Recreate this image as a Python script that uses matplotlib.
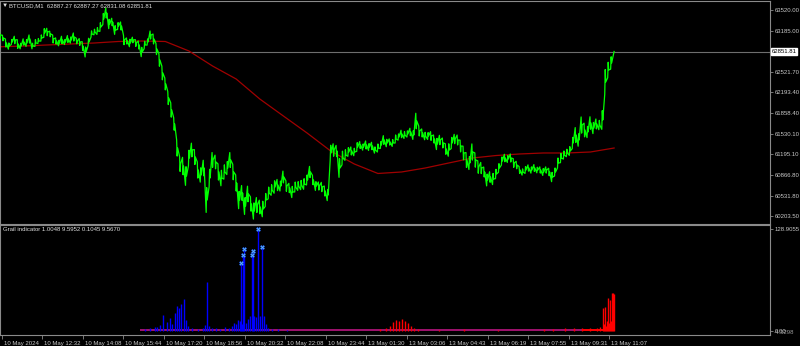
import matplotlib
matplotlib.use("Agg")
import matplotlib.pyplot as plt
import matplotlib.transforms as mtransforms

# =========================================================
# DATA  (BTCUSD M1)
# =========================================================
STEP = 7          # bars between close samples
MA_STEP = 56      # bars between MA samples

close = [
    63117, 63069, 62989, 62940, 63005, 63037, 62973, 62940, 63005, 62989,
    63053, 62940, 62989, 63021, 63069, 63150, 63166, 63134, 63053, 63021,
    62989, 63037, 63005, 63053, 63037, 63085, 63021, 63005, 62940, 62844,
    63005, 63134, 63166, 63182, 63246, 63375, 63472, 63295, 63327, 63198,
    63262, 63262, 63037, 63021, 62989, 63037, 62989, 62957, 62844, 62957,
    63005, 63117, 63053, 62892, 62715, 62506, 62329, 62103, 61910, 61685,
    61298, 61041, 61008, 60847, 61137, 61266, 61153, 60944, 60864, 60976,
    60461, 60815, 61105, 61073, 60912, 60815, 60912, 60976, 61105, 60912,
    60735, 60461, 60574, 60364, 60558, 60397, 60284, 60380, 60348, 60316,
    60461, 60574, 60622, 60670, 60702, 60686, 60831, 60686, 60654, 60590,
    60670, 60686, 60702, 60719, 60783, 60912, 60783, 60686, 60686, 60670,
    60606, 60541, 61218, 61266, 61250, 60976, 61137, 61185, 61234, 61250,
    61234, 61314, 61346, 61314, 61346, 61314, 61330, 61266, 61298, 61346,
    61427, 61379, 61395, 61379, 61443, 61475, 61524, 61507, 61524, 61556,
    61507, 61733, 61572, 61540, 61491, 61491, 61491, 61443, 61363, 61427,
    61379, 61282, 61266, 61379, 61443, 61427, 61330, 61218, 61105, 61057,
    61234, 61105, 60992, 60976, 60912, 60783, 60831, 60799, 60880, 60976,
    61089, 61137, 61121, 61137, 61057, 61024, 60944, 60912, 60944, 60976,
    60944, 60976, 60944, 60944, 60912, 60944, 60912, 60831, 60912, 61057,
    61137, 61185, 61218, 61250, 61379, 61507, 61427, 61668, 61588, 61556,
    61701, 61620, 61685, 61668, 61749, 62361, 62554, 62667, 62852,
]

# high-low span of the bars inside each sample (USD)
span = [
    110, 90, 130, 100, 80, 120, 140, 90, 100, 110,
    130, 90, 110, 80, 100, 140, 120, 90, 130, 100,
    90, 120, 80, 110, 100, 130, 90, 110, 140, 160,
    120, 100, 90, 110, 140, 180, 160, 150, 120, 140,
    110, 130, 150, 100, 120, 90, 110, 130, 150, 120,
    100, 130, 160, 180, 200, 220, 190, 210, 230, 200,
    260, 240, 280, 300, 250, 220, 240, 260, 230, 250,
    400, 280, 240, 220, 260, 250, 230, 210, 240, 250,
    260, 280, 240, 270, 250, 230, 260, 240, 220, 250,
    210, 190, 170, 200, 180, 160, 190, 170, 150, 180,
    160, 140, 150, 170, 160, 180, 150, 140, 130, 150,
    160, 180, 250, 200, 180, 300, 220, 170, 140, 130,
    120, 140, 110, 100, 130, 110, 120, 100, 130, 110,
    140, 120, 100, 110, 130, 100, 120, 110, 100, 120,
    140, 250, 160, 130, 120, 110, 140, 130, 180, 150,
    160, 170, 200, 180, 150, 160, 190, 220, 240, 210,
    260, 230, 200, 180, 160, 190, 170, 180, 150, 140,
    130, 120, 110, 130, 140, 120, 110, 100, 110, 100,
    100, 110, 90, 100, 110, 100, 120, 150, 130, 160,
    150, 130, 120, 140, 180, 240, 200, 260, 220, 180,
    200, 180, 160, 150, 300, 400, 250, 200, 0,
]

ma = [
    62928, 62940, 62957, 62973, 62989, 63013, 63021, 63013, 62860, 62618,
    62409, 62087, 61813, 61540, 61250, 61041, 60888, 60912, 60976, 61057,
    61137, 61177, 61202, 61218, 61218, 61234, 61298,
]

last_price = 62851.81
price_ticks = [63520.00, 63185.00, 62521.70, 62193.40, 61858.40,
               61530.10, 61195.10, 60866.80, 60531.80, 60203.50]

time_labels = [
    "10 May 2024", "10 May 12:32", "10 May 14:08", "10 May 15:44",
    "10 May 17:20", "10 May 18:56", "10 May 20:32", "10 May 22:08",
    "10 May 23:44", "13 May 01:30", "13 May 03:06", "13 May 04:43",
    "13 May 06:19", "13 May 07:55", "13 May 09:31", "13 May 11:07",
]
time_tick_bars = [4 + 96 * i for i in range(len(time_labels))]

# Grail indicator histogram (bar index, value)
blue_bars = [344, 356, 367, 372, 379, 386, 396, 403, 408, 415, 419, 424, 429,
             436, 441, 446, 455, 469, 481, 486, 491, 495, 502, 512, 521, 533,
             543, 550, 555, 559, 564, 569, 574, 583, 588, 593, 602, 607, 616,
             626, 630, 635, 645, 660, 680]
blue_vals = [2.5, 3.8, 5, 5, 7.6, 20, 11, 16.5, 8, 23, 32, 29, 34,
             40.5, 14, 6, 3, 2.5, 4, 7.6, 62, 6.3, 3, 3.8, 2.5, 5,
             3, 6, 10, 8, 14, 12, 9, 10, 15, 19, 19, 18, 19,
             19, 8, 4, 2.5, 2, 1.5]

signal_bars = [571, 576, 578, 597, 600, 611, 621]
signal_vals = [86.5, 97.0, 103.8, 96.2, 102.0, 128.9, 107.0]

red_bars = [900, 915, 924, 931, 939, 946, 953, 960, 967, 974, 981, 990,
            1040, 1100, 1180, 1290, 1310, 1340, 1360, 1380, 1400, 1415,
            1422, 1429, 1432, 1434, 1437, 1439, 1441, 1444, 1446, 1448,
            1450, 1453, 1456]
red_vals = [2, 4, 6.3, 11.4, 13.9, 12.7, 15.2, 12.7, 10, 6.3, 3.8, 2,
            1.5, 2, 1.5, 2, 2.5, 3, 3, 3.5, 3, 4,
            5, 29.1, 8, 30.4, 6, 12, 41.8, 10, 39.2, 12,
            48.1, 48.1, 46.8]

ind_start, ind_end = 332, 1458

# =========================================================
# PLOT
# =========================================================
BG = "black"
GRID = "#8a8a8a"
TXT = "#c8c8c8"
FS = 4.3

plt.rcParams["font.family"] = ["Liberation Sans", "DejaVu Sans"]

fig = plt.figure(figsize=(8, 3.46), dpi=100, facecolor=BG)
ax = fig.add_axes([0.0, 0.3526, 0.9625, 0.6445], facecolor=BG)
ax2 = fig.add_axes([0.0, 0.0318, 0.9625, 0.3165], facecolor=BG)

x_max = 770 * 96 / 40.49

for a in (ax, ax2):
    a.set_xlim(0, x_max)
    for s in a.spines.values():
        s.set_color(GRID)
        s.set_linewidth(0.8)
    a.yaxis.tick_right()
    a.tick_params(axis="y", colors=GRID, labelcolor=TXT, labelsize=FS,
                  length=2, width=0.6, pad=1.5)

# ---- price panel: near-vertical strokes through each sample's high/low,
# ordered by the direction to the next close
zx, zy = [], []
for k, (c, r) in enumerate(zip(close, span)):
    b = k * STEP
    if k == len(close) - 1:
        zx.append(b)
        zy.append(c)
        break
    hi, lo = c + r / 2, c - r / 2
    up = close[k + 1] >= c
    pts = (lo, hi, c) if up else (hi, lo, c)
    zx += [b - 1.2, b, b + 1.2]
    zy += list(pts)

ma_bars = [i * MA_STEP for i in range(len(ma))]

ax.axhline(last_price, color="#6e6e6e", lw=0.8, zorder=1)
ax.plot(ma_bars, ma, color="#a00000", lw=0.9, zorder=2)
ax.plot(zx, zy, color="#00ff00", lw=0.9, zorder=3)
ax.set_ylim(60074.6, 63665)
ax.set_yticks(price_ticks, [f"{v:.2f}" for v in price_ticks])
ax.set_xticks([])

trans = mtransforms.blended_transform_factory(ax.transAxes, ax.transData)
ax.text(1.002, last_price, f"{last_price:.2f}", transform=trans,
        fontsize=FS, color="black", va="center", ha="left",
        bbox=dict(boxstyle="square,pad=0.15", fc="white", ec="white"))

fig.text(2 / 800, 1 - 5.5 / 346, "\u25bc", fontsize=4.5, color="#e0e0e0",
         va="center", ha="left")
fig.text(9 / 800, 1 - 5.5 / 346,
         "BTCUSD,M1  62887.27 62887.27 62831.08 62851.81",
         fontsize=FS, color="#e0e0e0", va="center", ha="left")

# ---- indicator panel
ax2.plot([ind_start, ind_end], [0.4, 0.4], color="#a0126e", lw=1.4,
         solid_capstyle="butt", zorder=1)
ax2.plot([1380, ind_end], [0.4, 0.4], color="#ff0000", lw=1.4,
         solid_capstyle="butt", zorder=1)
ax2.vlines(blue_bars, 0, blue_vals, color="#0000ff", lw=1.0, zorder=2)
ax2.vlines(signal_bars, 0, signal_vals, color="#0000ff", lw=1.0, zorder=2)
ax2.vlines(red_bars, 0, red_vals, color="#ff0000", lw=1.0, zorder=2)
ax2.scatter(signal_bars, signal_vals, marker="X", s=9, c="#5ab0ff",
            edgecolors="#1f5ae0", linewidths=0.4, zorder=3)

ax2.set_ylim(-5.4, 134)
ax2.set_yticks([128.9055, 0], ["128.9055", "0.00"])
ax2.text(1.005, -2.6, "-4.3298", transform=mtransforms.blended_transform_factory(
    ax2.transAxes, ax2.transData), fontsize=FS, color="#9a9a9a",
    va="center", ha="left", zorder=0)

ax2.text(3 / 770, 1 - 4 / 110, "Grail indicator 1.0048 9.5952 0.1045 9.5670",
         transform=ax2.transAxes, fontsize=FS, color="#e0e0e0",
         va="center", ha="left")

ax2.set_xticks(time_tick_bars, time_labels)
ax2.tick_params(axis="x", colors=GRID, labelcolor=TXT, labelsize=FS,
                length=3, width=0.6, pad=1.0)
offset = mtransforms.ScaledTranslation(2 / 100, 0, fig.dpi_scale_trans)
for lab in ax2.get_xticklabels():
    lab.set_horizontalalignment("left")
    lab.set_transform(lab.get_transform() + offset)

fig.savefig("out.png", dpi=100, facecolor=BG)
